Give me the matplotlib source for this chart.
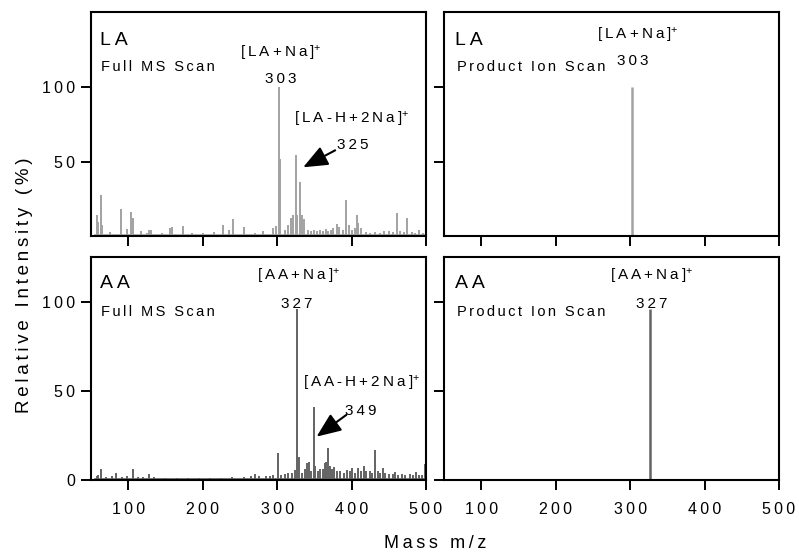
import matplotlib
matplotlib.use('Agg')
import matplotlib.pyplot as plt

plt.rcParams['font.family'] = ['Liberation Sans', 'DejaVu Sans']
plt.rcParams['mathtext.default'] = 'regular'

# LA full MS scan (m/z, relative intensity %)
la_full_mz = [58, 59, 64, 65, 76, 90, 99, 104, 106, 117, 125, 128, 131, 145, 156, 159,
              173, 185, 200, 215, 227, 236, 241, 255, 270, 281, 295, 299, 303, 304.5,
              310, 315, 318, 321, 325, 327, 331, 334, 336, 341, 345, 349, 353, 357,
              361, 365, 369, 372, 375, 380, 383, 388, 393, 396, 400, 404, 407, 409,
              413, 419, 425, 432, 438, 444, 450, 455, 461, 465, 470, 475, 481, 485,
              490, 496]
la_full_int = [14.7, 10, 28, 8, 3.5, 19, 5.8, 16.9, 13, 4, 3, 4.7, 5, 3, 6.4, 7,
               7.6, 3, 3, 3.5, 8.4, 4.9, 12.2, 7, 3, 4, 6, 7.5, 100, 52,
               5, 8, 12.7, 14.8, 55, 15, 37, 15, 12, 5, 4, 5, 4.5, 5,
               4, 5.5, 4.5, 5, 6.3, 8.7, 7, 5, 24.7, 8.4, 5, 6, 15, 9.5,
               6, 3.5, 3, 3.5, 3, 4, 4, 3.5, 16, 4, 3.5, 13, 3.5, 3,
               4.7, 3]

# LA product ion scan
la_prod_mz = [303]
la_prod_int = [100]
la_prod_base_x = [270, 305]
la_prod_base_y = [1.3, 1.3]

# AA full MS scan
aa_full_mz = [58, 60, 64, 70, 78, 84, 92, 99, 106, 113, 120, 128, 135, 150, 165, 180,
              195, 210, 225, 240, 255, 265, 270, 275, 285, 290, 295, 301, 305, 310,
              315, 320, 324, 327, 329, 333, 337, 340, 343, 346, 349, 351, 355, 358,
              361, 364, 366, 368.5, 371, 374, 376.7, 380, 385, 390, 394, 398, 400.7,
              404, 409, 413, 416.5, 420, 425, 428, 431.6, 435, 438, 441.8, 445, 450,
              455, 459, 463, 468, 472, 478, 482, 486, 490, 494, 498, 500]
aa_full_int = [2, 3, 6, 1.5, 2, 3.7, 1.5, 2, 6, 1.5, 1.5, 3.2, 1.5, 1, 1, 1.2,
               1, 1.2, 1.3, 1.5, 1.5, 2, 3.4, 2, 2, 2.5, 3, 15.4, 3, 3.5,
               4, 4, 5.6, 96, 13, 4, 6, 9.7, 10, 5, 41, 8, 5, 6,
               6, 9.4, 10, 17.8, 8, 6, 7.5, 5, 5, 4, 5.5, 5, 6.6,
               4, 7, 5, 7.9, 5, 5, 4, 16.9, 5, 4, 6.6, 4, 3.5,
               3.5, 4.7, 3, 3.5, 3, 3.5, 3, 4.3, 3, 3, 9, 9]

# AA product ion scan
aa_prod_mz = [327]
aa_prod_int = [96]

xticks = [100, 200, 300, 400, 500]
light = '#a2a2a2'
dark = '#636363'

THIN = '\u2009'
SIXTH = '\u2006'


def sp(s, gap=THIN):
    # fake letter spacing
    return gap.join(s)


def ion(s):
    return sp(s) + '$^{+}$'


fig = plt.figure(figsize=(7.99, 5.52), dpi=100)
W, H = 335 / 799, 224 / 552
ax_tl = fig.add_axes([91 / 799, 1 - 236 / 552, W, H])
ax_tr = fig.add_axes([444 / 799, 1 - 236 / 552, W, H])
ax_bl = fig.add_axes([91 / 799, 1 - 480 / 552, W, 223 / 552])
ax_br = fig.add_axes([444 / 799, 1 - 480 / 552, W, 223 / 552])

for ax in [ax_tl, ax_tr, ax_bl, ax_br]:
    ax.set_xlim(50, 500)
    ax.set_xticks(xticks)
    ax.set_xticklabels([sp(str(t)) for t in xticks])
    for s in ax.spines.values():
        s.set_linewidth(1.5)
    ax.tick_params(direction='out', length=7.5, width=1.4, labelsize=11.5)
    ax.tick_params(axis='x', pad=8)
    ax.tick_params(axis='y', pad=4)

for ax in [ax_tl, ax_tr]:
    ax.set_ylim(1, 150)
    ax.set_yticks([50, 100])
    ax.set_yticklabels([sp('50'), sp('100')])
    ax.tick_params(labelbottom=False)
for ax in [ax_bl, ax_br]:
    ax.set_ylim(0, 125)
    ax.set_yticks([0, 50, 100])
    ax.set_yticklabels(['0', sp('50'), sp('100')])
for ax in [ax_tr, ax_br]:
    ax.tick_params(labelleft=False)

# spectra
ax_tl.plot([55, 500], [1.8, 1.8], color=light, lw=1.2)
ax_tl.vlines(la_full_mz, 1.8, la_full_int, color=light, lw=1.4)
ax_tr.plot(la_prod_base_x, la_prod_base_y, color=light, lw=1.2)
ax_tr.vlines(la_prod_mz, 1.3, la_prod_int, color=light, lw=1.8)
ax_bl.plot([55, 500], [0.6, 0.6], color=dark, lw=1.2)
ax_bl.vlines(aa_full_mz, 0.6, aa_full_int, color=dark, lw=1.4)
ax_br.vlines(aa_prod_mz, 0, aa_prod_int, color=dark, lw=1.8)

# panel labels
for ax, name, scan, y1, y2 in [(ax_tl, 'LA', 'Full MS Scan', 0.853, 0.737),
                               (ax_tr, 'LA', 'Product Ion Scan', 0.853, 0.738),
                               (ax_bl, 'AA', 'Full MS Scan', 0.861, 0.735),
                               (ax_br, 'AA', 'Product Ion Scan', 0.861, 0.735)]:
    x0 = 0.027 if ax in (ax_tl, ax_bl) else 0.034
    ax.text(x0, y1, sp(name), transform=ax.transAxes, fontsize=14, va='baseline')
    ax.text(x0 + 0.004, y2, sp(scan, SIXTH), transform=ax.transAxes, fontsize=10.5,
            va='baseline')

# peak annotations
kw = dict(ha='center', va='baseline', fontsize=11)
ax_tl.text(305, 120, ion('[LA+Na]'), **kw)
ax_tl.text(304.5, 102.5, sp('303'), **kw)
ax_tl.text(400, 76, ion('[LA-H+2Na]'), **kw)
ax_tl.text(401, 58.7, sp('325'), **kw)
ax_tr.text(310.5, 131.7, ion('[LA+Na]'), **kw)
ax_tr.text(304, 114.7, sp('303'), **kw)
ax_bl.text(328.7, 111.8, ion('[AA+Na]'), **kw)
ax_bl.text(326.7, 96.5, sp('327'), **kw)
ax_bl.text(414, 51.7, ion('[AA-H+2Na]'), **kw)
ax_bl.text(413, 36.5, sp('349'), **kw)
ax_br.text(329.3, 111.8, ion('[AA+Na]'), **kw)
ax_br.text(329.3, 96.5, sp('327'), **kw)

arrow = dict(arrowstyle='-|>,head_length=1.5,head_width=0.62', mutation_scale=10,
             color='black', lw=1.5, shrinkA=0, shrinkB=0)
ax_tl.annotate('', xy=(335, 46.7), xytext=(378, 58), arrowprops=arrow)
ax_bl.annotate('', xy=(353, 24.3), xytext=(393, 36.5), arrowprops=arrow)

fig.text(25 / 799, 1 - 285 / 552, sp('Relative Intensity (%)'), rotation=90,
         ha='center', va='center', fontsize=13.5)
fig.text(435.5 / 799, 1 - 548 / 552, sp('Mass m/z'), ha='center',
         va='baseline', fontsize=13)

fig.savefig('out.png', dpi=100)
